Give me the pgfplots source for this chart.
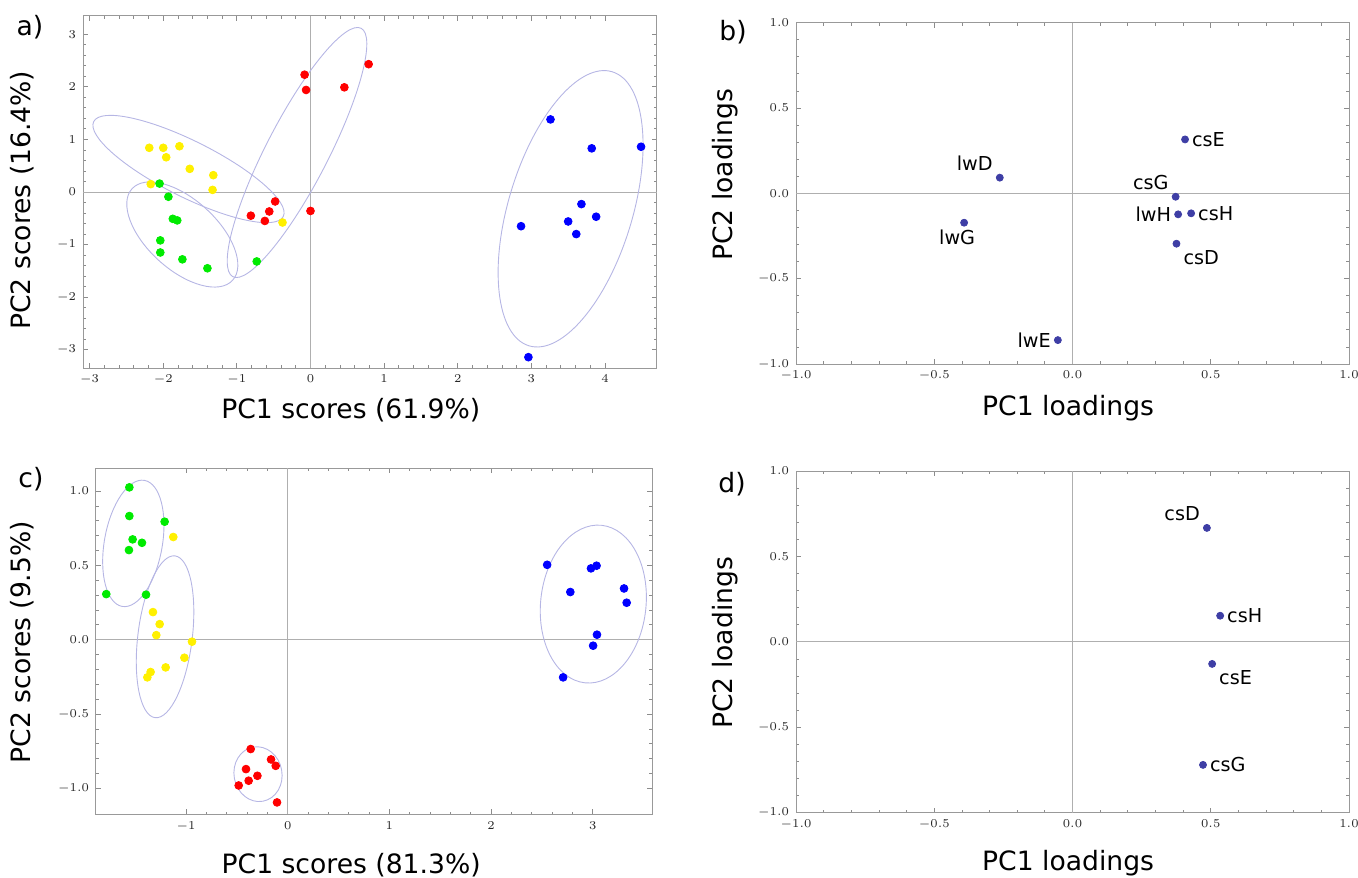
\documentclass[border=0pt]{standalone}
\usepackage{fontspec}
\setmainfont{DejaVu Sans}
\usepackage{pgfplots}
\pgfplotsset{compat=1.18}

\definecolor{ellc}{RGB}{182,182,228}
\definecolor{zline}{RGB}{175,175,175}
\definecolor{loadc}{RGB}{62,62,165}
\definecolor{pyel}{RGB}{255,240,0}
\definecolor{pgrn}{RGB}{0,235,0}

\newcommand{\labfont}{\fontsize{13.3}{15.5}\selectfont}

\pgfplotsset{
  pca/.style={
    scale only axis, anchor=south west, clip=false,
    axis line style={black!40, line width=0.5pt},
    tick style={black!45, line width=0.4pt},
    major tick length=2.5pt, minor tick length=1.4pt,
    minor tick num=4,
    tick label style={font=\fontsize{6.4}{7.5}\selectfont, text=black!85},
  },
  xlab/.style 2 args={every axis x label/.style={at={(axis description cs:#1,#2)},
    anchor=center, font=\labfont}},
  ylab/.style 2 args={every axis y label/.style={at={(axis description cs:#1,#2)},
    rotate=90, anchor=center, font=\labfont}},
  onedec/.style={/pgf/number format/.cd, fixed, fixed zerofill, precision=1},
  scores/.style={only marks, mark=*, mark size=1.95pt},
  lab/.style={only marks, mark=*, mark size=1.75pt, color=loadc,
    point meta=explicit symbolic, nodes near coords,
    every node near coord/.append style={anchor=#1, text=black,
      font=\fontsize{9.6}{11}\selectfont}},
}

\begin{document}
\begin{tikzpicture}
\useasboundingbox (0,0) rectangle (679pt,-438.5pt);

% a) scores
\begin{axis}[pca, at={(41.5pt,-184pt)}, width=286.75pt, height=176pt,
  xmin=-3.09, xmax=4.70, ymin=-3.346, ymax=3.346,
  xtick={-3,...,4}, ytick={-3,...,3},
  xlabel={PC1 scores (61.9\%)}, ylabel={PC2 scores (16.4\%)},
  xlab={0.467}{-0.119}, ylab={-0.106}{0.477}]
  \draw[zline, line width=0.5pt] (axis cs:0,-3.346) -- (axis cs:0,3.346);
  \draw[zline, line width=0.5pt] (axis cs:-3.09,0) -- (axis cs:4.70,0);
  \draw[ellc, line width=0.45pt] (axis cs:-1.657,0.437) ellipse [x radius=53pt, y radius=14pt, rotate=-26.6];
  \draw[ellc, line width=0.45pt] (axis cs:-1.741,-0.808) ellipse [x radius=34pt, y radius=17.5pt, rotate=-42.3];
  \draw[ellc, line width=0.45pt] (axis cs:-0.183,0.751) ellipse [x radius=69.9pt, y radius=15.5pt, rotate=62.7];
  \draw[ellc, line width=0.45pt] (axis cs:3.533,-0.319) ellipse [x radius=71.6pt, y radius=31pt, rotate=73.1];
  \addplot[scores, color=pyel] coordinates {
    (-2.19,0.84) (-2.00,0.84) (-1.78,0.87) (-1.96,0.66) (-1.64,0.44)
    (-1.32,0.32) (-1.33,0.04) (-2.17,0.15) (-0.38,-0.58)};
  \addplot[scores, color=pgrn] coordinates {
    (-2.05,0.16) (-1.93,-0.09) (-1.87,-0.51) (-1.81,-0.54) (-2.04,-0.92)
    (-2.04,-1.15) (-1.74,-1.28) (-1.40,-1.45) (-0.73,-1.32)};
  \addplot[scores, color=red] coordinates {
    (-0.08,2.23) (-0.06,1.94) (0.46,1.99) (0.79,2.43) (-0.81,-0.45)
    (-0.62,-0.55) (-0.56,-0.37) (-0.48,-0.18) (0.00,-0.36)};
  \addplot[scores, color=blue] coordinates {
    (3.26,1.38) (3.82,0.83) (4.49,0.86) (2.86,-0.65) (3.68,-0.23)
    (3.50,-0.56) (3.88,-0.47) (3.61,-0.80) (2.96,-3.14)};
\end{axis}

% b) loadings
\begin{axis}[pca, at={(398pt,-182pt)}, width=276.5pt, height=170.65pt,
  xmin=-1, xmax=1, ymin=-1, ymax=1,
  xtick={-1,-0.5,0,0.5,1}, ytick={-1,-0.5,0,0.5,1},
  xticklabel style={onedec}, yticklabel style={onedec},
  xlabel={PC1 loadings}, ylabel={PC2 loadings},
  xlab={0.492}{-0.129}, ylab={-0.128}{0.554}]
  \draw[zline, line width=0.5pt] (axis cs:0,-1) -- (axis cs:0,1);
  \draw[zline, line width=0.5pt] (axis cs:-1,0) -- (axis cs:1,0);
  \addplot[lab=west] coordinates {(0.407,0.316) [csE] (0.429,-0.117) [csH]};
  \addplot[lab=east] coordinates {(0.382,-0.123) [lwH] (-0.053,-0.860) [lwE]};
  \addplot[lab=south east] coordinates {(-0.263,0.092) [lwD] (0.373,-0.020) [csG]};
  \addplot[lab=north, every node near coord/.append style={xshift=-3.5pt}]
    coordinates {(-0.392,-0.172) [lwG]};
  \addplot[lab=north west] coordinates {(0.376,-0.295) [csD]};
\end{axis}

% c) scores
\begin{axis}[pca, at={(48pt,-407.15pt)}, width=278pt, height=173pt,
  xmin=-1.885, xmax=3.582, ymin=-1.174, ymax=1.153,
  xtick={-1,0,1,2,3}, ytick={-1,-0.5,0,0.5,1},
  yticklabel style={onedec},
  xlabel={PC1 scores (81.3\%)}, ylabel={PC2 scores (9.5\%)},
  xlab={0.459}{-0.147}, ylab={-0.133}{0.498}]
  \draw[zline, line width=0.5pt] (axis cs:0,-1.174) -- (axis cs:0,1.153);
  \draw[zline, line width=0.5pt] (axis cs:-1.885,0) -- (axis cs:3.582,0);
  \draw[ellc, line width=0.45pt] (axis cs:-1.518,0.648) ellipse [x radius=32pt, y radius=14.5pt, rotate=80];
  \draw[ellc, line width=0.45pt] (axis cs:-1.206,0.02) ellipse [x radius=40.75pt, y radius=13.6pt, rotate=83];
  \draw[ellc, line width=0.45pt] (axis cs:-0.292,-0.904) ellipse [x radius=12pt, y radius=13.75pt, rotate=10];
  \draw[ellc, line width=0.45pt] (axis cs:3.005,0.240) ellipse [x radius=26.35pt, y radius=39.6pt, rotate=-6];
  \addplot[scores, color=pgrn] coordinates {
    (-1.557,1.025) (-1.557,0.832) (-1.525,0.675) (-1.433,0.652)
    (-1.561,0.603) (-1.210,0.794) (-1.784,0.307) (-1.393,0.303)};
  \addplot[scores, color=pyel] coordinates {
    (-1.125,0.691) (-1.325,0.186) (-1.259,0.105) (-1.292,0.031) (-0.941,-0.013)
    (-1.016,-0.121) (-1.200,-0.186) (-1.348,-0.217) (-1.380,-0.253)};
  \addplot[scores, color=red] coordinates {
    (-0.364,-0.735) (-0.164,-0.805) (-0.118,-0.848) (-0.410,-0.870)
    (-0.298,-0.915) (-0.384,-0.948) (-0.482,-0.980) (-0.105,-1.094)};
  \addplot[scores, color=blue] coordinates {
    (2.551,0.504) (2.779,0.321) (2.982,0.480) (3.037,0.498) (3.307,0.345)
    (3.333,0.249) (3.041,0.034) (3.003,-0.040) (2.708,-0.253)};
\end{axis}

% d) loadings
\begin{axis}[pca, at={(398pt,-406.35pt)}, width=276.5pt, height=170.85pt,
  xmin=-1, xmax=1, ymin=-1, ymax=1,
  xtick={-1,-0.5,0,0.5,1}, ytick={-1,-0.5,0,0.5,1},
  xticklabel style={onedec}, yticklabel style={onedec},
  xlabel={PC1 loadings}, ylabel={PC2 loadings},
  xlab={0.492}{-0.147}, ylab={-0.128}{0.497}]
  \draw[zline, line width=0.5pt] (axis cs:0,-1) -- (axis cs:0,1);
  \draw[zline, line width=0.5pt] (axis cs:-1,0) -- (axis cs:1,0);
  \addplot[lab=south east] coordinates {(0.486,0.667) [csD]};
  \addplot[lab=west] coordinates {(0.534,0.153) [csH] (0.472,-0.720) [csG]};
  \addplot[lab=north west] coordinates {(0.505,-0.129) [csE]};
\end{axis}

\node[font=\labfont] at (15pt,-13.5pt) {a)};
\node[font=\labfont] at (366.5pt,-16pt) {b)};
\node[font=\labfont] at (15.5pt,-239.5pt) {c)};
\node[font=\labfont] at (366pt,-242pt) {d)};
\end{tikzpicture}
\end{document}
